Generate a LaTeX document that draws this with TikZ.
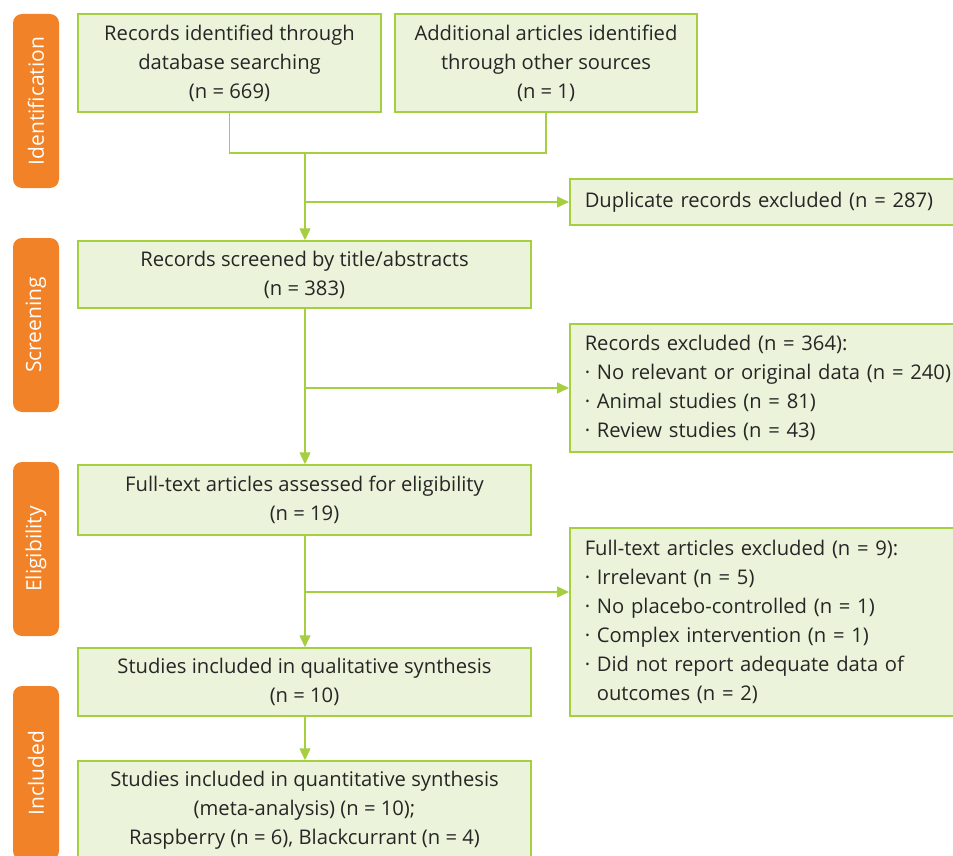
\documentclass[tikz,border=0pt]{standalone}
\usepackage{fontspec}
\setmainfont{Open Sans}
\usetikzlibrary{arrows.meta}
\definecolor{gline}{HTML}{A5CF3F}
\definecolor{gfill}{HTML}{EBF4DA}
\definecolor{tabc}{HTML}{F28228}
\definecolor{txt}{HTML}{262626}
\begin{document}
\begin{tikzpicture}[x=1pt,y=-1pt,
  every node/.style={font=\fontsize{20.2}{29}\selectfont, text=txt},
  box/.style={draw=gline, fill=gfill, line width=1.5pt, align=center, inner sep=0pt},
  sidebox/.style={draw=gline, fill=gfill, line width=1.5pt, align=left, anchor=west, inner xsep=15pt, inner ysep=0pt, text width=370pt, minimum width=400pt},
  tabbox/.style={fill=tabc, rounded corners=9pt, rotate=90, minimum width=174pt, minimum height=46pt, text=white, inner sep=0pt, font=\fontsize{21}{25}\selectfont},
  conn/.style={draw=gline, line width=1.5pt},
  arr/.style={conn, -{Triangle[length=12pt, width=11pt]}}
]
\useasboundingbox (0,0) rectangle (953,856);
% phase tabs
\node[tabbox] (t1) at (36,101) {Identification};
\node[tabbox] (t2) at (36,325) {Screening};
\node[tabbox] (t3) at (36,549) {Eligibility};
\node[tabbox] (t4) at (36,773) {Included};
% main boxes
\node[box, minimum width=303pt, minimum height=98pt] (b1) at (229.5,63) {Records identified through\\database searching\\(n = 669)};
\node[box, minimum width=302pt, minimum height=98pt] (b2) at (546,63) {Additional articles identified\\through other sources\\(n = 1)};
\node[box, minimum width=453pt, minimum height=67pt] (b3) at (304.5,274.5) {Records screened by title/abstracts\\(n = 383)};
\node[box, minimum width=453pt, minimum height=70pt] (b4) at (304.5,500) {Full-text articles assessed for eligibility\\(n = 19)};
\node[box, minimum width=453pt, minimum height=68pt] (b5) at (304.5,682) {Studies included in qualitative synthesis\\(n = 10)};
\node[box, minimum width=453pt, minimum height=98pt] (b6) at (304.5,810) {Studies included in quantitative synthesis\\(meta-analysis) (n = 10);\\Raspberry (n = 6), Blackcurrant (n = 4)};
% side boxes
\node[sidebox, minimum height=46pt] (s1) at (569,202) {Duplicate records excluded (n = 287)};
\node[sidebox, minimum height=128pt] (s2) at (569,388) {Records excluded (n = 364):\\
\textperiodcentered\ No relevant or original data (n = 240)\\
\textperiodcentered\ Animal studies (n = 81)\\
\textperiodcentered\ Review studies (n = 43)};
\node[sidebox, minimum height=188pt] (s3) at (569,622) {Full-text articles excluded (n = 9):\\
\textperiodcentered\ Irrelevant (n = 5)\\
\textperiodcentered\ No placebo-controlled (n = 1)\\
\textperiodcentered\ Complex intervention (n = 1)\\
\textperiodcentered\ Did not report adequate data of\\
\phantom{\textperiodcentered\ }outcomes (n = 2)};
% connectors
\coordinate (m) at (305,153);
\coordinate (k1) at (305,202);
\coordinate (k2) at (305,388);
\coordinate (k3) at (305,592);
\draw[conn] (b1.south) -- (b1.south |- m) -- (b2.south |- m) -- (b2.south);
\draw[arr] (m) -- (m |- b3.north);
\draw[arr] (k1) -- (s1.west);
\draw[arr] (b3.south -| m) -- (m |- b4.north);
\draw[arr] (k2) -- (s2.west);
\draw[arr] (b4.south -| m) -- (m |- b5.north);
\draw[arr] (k3) -- (k3 -| s3.west);
\draw[arr] (b5.south -| m) -- (m |- b6.north);
\end{tikzpicture}
\end{document}
